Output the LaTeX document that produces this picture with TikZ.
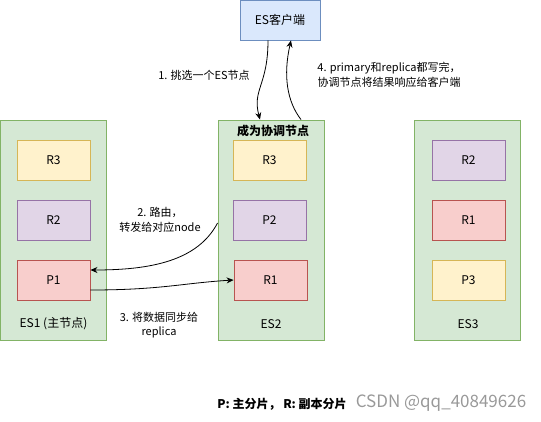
\documentclass[tikz,border=0pt]{standalone}
\usepackage{fontspec}
\setmainfont{Noto Sans CJK SC}
\usetikzlibrary{arrows.meta,positioning}

\definecolor{grnfill}{HTML}{D5E8D4}
\definecolor{grnline}{HTML}{82B366}
\definecolor{yelfill}{HTML}{FFF2CC}
\definecolor{yelline}{HTML}{D6B656}
\definecolor{purfill}{HTML}{E1D5E7}
\definecolor{purline}{HTML}{9673A6}
\definecolor{redfill}{HTML}{F8CECC}
\definecolor{redline}{HTML}{B85450}
\definecolor{blufill}{HTML}{DAE8FC}
\definecolor{bluline}{HTML}{6C8EBF}

\tikzset{
  server/.style={draw=grnline, fill=grnfill, line width=0.9pt,
    minimum width=106pt, minimum height=220pt},
  shard/.style={line width=0.9pt, minimum width=73pt, minimum height=40pt,
    font=\fontsize{12}{14}\selectfont},
  yel/.style={shard, draw=yelline, fill=yelfill},
  pur/.style={shard, draw=purline, fill=purfill},
  red/.style={shard, draw=redline, fill=redfill},
  txt/.style={font=\fontsize{11}{14.5}\selectfont, align=center, inner sep=0pt},
  flow/.style={-{Stealth[length=7pt,width=6pt]}, line width=0.8pt},
}

\begin{document}
\begin{tikzpicture}[x=1pt,y=-1pt,node distance=60pt]
    \useasboundingbox (0,0) rectangle (541,421);
    % client
    \node[draw=bluline, fill=blufill, line width=0.9pt, minimum width=80pt,
      minimum height=40pt, font=\fontsize{12}{14}\selectfont] (cl) at (280,20) {ES客户端};
    % servers
    \node[server] (es1) at (53.5,230) {};
    \node[server] (es2) at (271,230)  {};
    \node[server] (es3) at (467.5,230) {};
    \node[txt, font=\fontsize{12}{14}\selectfont] (es1lbl) at (53.5,324) {ES1 (主节点)};
    \node[txt, font=\fontsize{12}{14}\selectfont] (es2lbl) at (271,324)  {ES2};
    \node[txt, font=\fontsize{12}{14}\selectfont] (es3lbl) at (468,324)  {ES3};
    \node[txt, font=\fontsize{12}{14}\selectfont\bfseries] (coord) at (273,131) {成为协调节点};
    % shards
    \node[yel] (r3a) at (53.5,160)      {R3};
    \node[pur] (r2a) [below of=r3a]     {R2};
    \node[red] (p1)  [below of=r2a]     {P1};
    \node[yel] (r3b) at (269.5,160)     {R3};
    \node[pur] (p2)  [below of=r3b]     {P2};
    \node[red] (r1b) at (270.5,280)     {R1};
    \node[pur] (r2c) at (468.5,160)     {R2};
    \node[red] (r1c) [below of=r2c]     {R1};
    \node[yel] (p3)  [below of=r1c]     {P3};
    % connectors
    \draw[flow] ([xshift=-12pt]cl.south) .. controls +(0,45) and +(-8,-30) .. ([xshift=-11pt]es2.north);
    \draw[flow] ([xshift=30pt]es2.north) .. controls +(-14,-18) and +(-8,35) .. ([xshift=11pt]cl.south);
    \draw[flow] ([yshift=7pt]es2.west) .. controls +(-20,38) and +(60,0) .. ([yshift=10pt]p1.east);
    \draw[flow] ([yshift=-10pt]p1.east) .. controls +(70,0) and +(-50,3) .. (r1b.west);
    % labels
    \node[txt] (lbl1) at (204,75)   {1. 挑选一个ES节点};
    \node[txt] (lbl4) at (389,75)   {4. primary和replica都写完，\\协调节点将结果响应给客户端};
    \node[txt] (lbl2) at (160,220)  {2. 路由，\\转发给对应node};
    \node[txt] (lbl3) at (159,325)  {3. 将数据同步给\\replica};
    \node[txt, font=\fontsize{12}{14}\selectfont\bfseries] (legend) at (282,404) {P: 主分片， R: 副本分片};
    \node[txt, font=\fontsize{17}{19}\selectfont, text=black!40] (mark) at (441,403) {CSDN @qq\_40849626};
\end{tikzpicture}
\end{document}
